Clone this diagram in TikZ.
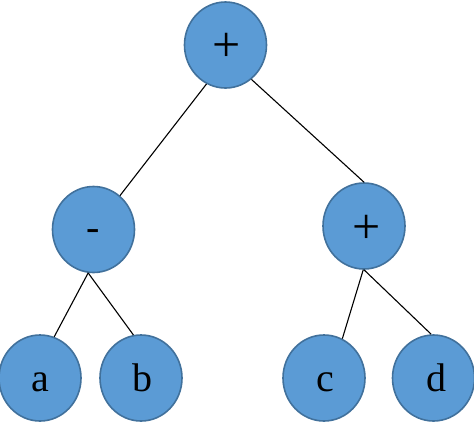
\documentclass[tikz,border=0pt]{standalone}
\usepackage{fontspec}
\setmainfont{Liberation Serif}
\usetikzlibrary{shapes.geometric}
\definecolor{nodefill}{HTML}{5B9BD5}
\definecolor{nodeedge}{HTML}{41719C}
\begin{document}
\begin{tikzpicture}[x=1pt,y=-1pt,
  treenode/.style={ellipse,draw=nodeedge,fill=nodefill,line width=1.6pt,
    minimum width=82pt,minimum height=86pt,inner sep=0pt},
  letter/.style={font=\fontsize{40}{44}\selectfont,inner sep=0pt,anchor=base},
  opsign/.style={font=\fontsize{50}{54}\selectfont,inner sep=0pt},
  edge/.style={draw=black,line width=1.1pt}]
\useasboundingbox (0,0) rectangle (474,424);
\node[treenode] (root) at (225.5,45) {};
\node[treenode] (minus) at (93.5,229.5) {};
\node[treenode] (plus) at (364,226) {};
\node[treenode] (a) at (40,378) {};
\node[treenode] (b) at (141,378) {};
\node[treenode] (c) at (324,378) {};
\node[treenode] (d) at (433.5,378) {};
\node[opsign] (troot) at (227,47) {+};
\node[letter,anchor=center] (tminus) at (93,235) {-};
\node[opsign] (tplus) at (367,229) {+};
\node[letter] (ta) at (40,391) {a};
\node[letter] (tb) at (142,391) {b};
\node[letter] (tc) at (325,391) {c};
\node[letter] (td) at (436,391) {d};
\draw[edge] (root.244) -- (minus.52);
\draw[edge] (root.307) -- (plus.90);
\draw[edge] (minus.263) -- (a.71);
\draw[edge] (minus.263) -- (b.100);
\draw[edge] (plus.269) -- (c.65);
\draw[edge] (plus.270) -- (d.93);
\end{tikzpicture}
\end{document}
